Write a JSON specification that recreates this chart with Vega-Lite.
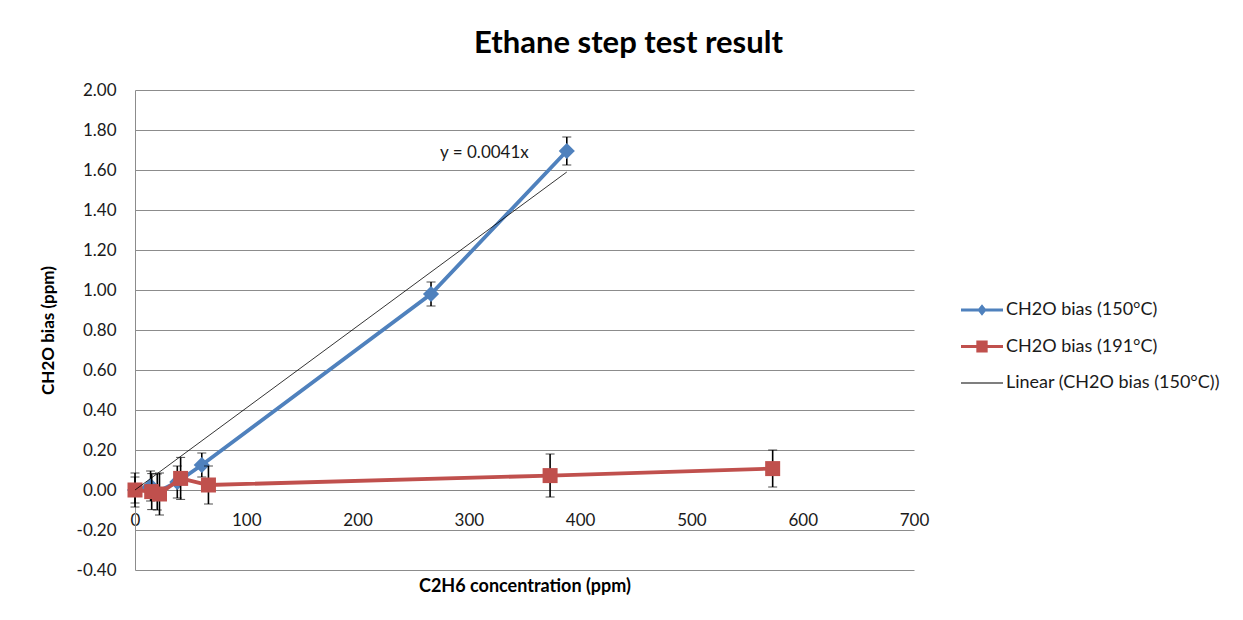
{
  "$schema": "https://vega.github.io/schema/vega-lite/v6.json",
  "width": 779,
  "height": 480,
  "autosize": {"type": "none"},
  "padding": {"left": 135, "top": 90, "right": 329, "bottom": 50},
  "background": "white",
  "title": {
    "text": "Ethane step test result",
    "font": "Lato",
    "fontSize": 31,
    "fontWeight": "bold",
    "color": "#000000",
    "anchor": "middle",
    "frame": "group",
    "dx": 104,
    "dy": 38,
    "offset": 35,
    "baseline": "alphabetic"
  },
  "config": {
    "view": {"stroke": null},
    "font": "Lato",
    "axis": {"labelFont": "Lato", "titleFont": "Lato", "labelColor": "#1a1a1a", "titleColor": "#000000"}
  },
  "datasets": {
    "pts": [
      {"series": "CH2O bias (150°C)", "x": 0, "y": 0.0, "lo": -0.065, "hi": 0.065},
      {"series": "CH2O bias (150°C)", "x": 14, "y": 0.02, "lo": -0.055, "hi": 0.095},
      {"series": "CH2O bias (150°C)", "x": 20, "y": -0.01, "lo": -0.1, "hi": 0.08},
      {"series": "CH2O bias (150°C)", "x": 38, "y": 0.04, "lo": -0.04, "hi": 0.12},
      {"series": "CH2O bias (150°C)", "x": 60, "y": 0.125, "lo": 0.065, "hi": 0.185},
      {"series": "CH2O bias (150°C)", "x": 266, "y": 0.98, "lo": 0.92, "hi": 1.04},
      {"series": "CH2O bias (150°C)", "x": 388, "y": 1.695, "lo": 1.625, "hi": 1.765},
      {"series": "CH2O bias (191°C)", "x": 0, "y": 0.0, "lo": -0.085, "hi": 0.085},
      {"series": "CH2O bias (191°C)", "x": 15, "y": -0.008, "lo": -0.098, "hi": 0.082},
      {"series": "CH2O bias (191°C)", "x": 22, "y": -0.02, "lo": -0.125, "hi": 0.085},
      {"series": "CH2O bias (191°C)", "x": 41, "y": 0.058, "lo": -0.047, "hi": 0.163},
      {"series": "CH2O bias (191°C)", "x": 66, "y": 0.025, "lo": -0.07, "hi": 0.12},
      {"series": "CH2O bias (191°C)", "x": 373, "y": 0.072, "lo": -0.035, "hi": 0.18},
      {"series": "CH2O bias (191°C)", "x": 573, "y": 0.107, "lo": 0.015, "hi": 0.2}
    ],
    "trend": [
      {"series": "Linear (CH2O bias (150°C))", "x": 0, "y": 0.0},
      {"series": "Linear (CH2O bias (150°C))", "x": 388, "y": 1.59}
    ],
    "label": [
      {"x": 314, "y": 1.685, "text": "y = 0.0041x"}
    ]
  },
  "encoding": {
    "x": {
      "field": "x",
      "type": "quantitative",
      "scale": {"domain": [0, 700], "nice": false, "zero": false},
      "axis": {
        "values": [0, 100, 200, 300, 400, 500, 600, 700],
        "grid": false,
        "ticks": false,
        "domain": true,
        "domainColor": "#868686",
        "offset": -80,
        "labelPadding": 22,
        "labelFontSize": 17,
        "labelFlush": false,
        "labelOverlap": false,
        "title": "C2H6 concentration (ppm)",
        "titleFontSize": 18,
        "titleFontWeight": "bold",
        "titleY": 96,
        "titleBaseline": "middle"
      }
    },
    "y": {
      "field": "y",
      "type": "quantitative",
      "scale": {"domain": [-0.4, 2.0], "nice": false, "zero": false},
      "axis": {
        "values": [-0.4, -0.2, 0, 0.2, 0.4, 0.6, 0.8, 1.0, 1.2, 1.4, 1.6, 1.8, 2.0],
        "labelExpr": "replace(format(datum.value, '.2f'), '\u2212', '-')",
        "grid": true,
        "gridColor": "#8c8c8c",
        "domainColor": "#8c8c8c",
        "ticks": false,
        "labelPadding": 19,
        "labelFontSize": 17,
        "labelFlush": false,
        "labelOverlap": false,
        "title": "CH2O bias (ppm)",
        "titleFontSize": 17,
        "titleFontWeight": "bold",
        "titleX": -87,
        "titleY": 240,
        "titleBaseline": "middle"
      }
    }
  },
  "layer": [
    {
      "data": {"name": "pts"},
      "transform": [{"filter": "datum.series === 'CH2O bias (150°C)'"}],
      "mark": {"type": "errorbar", "ticks": {"size": 9, "color": "#000000", "strokeWidth": 1.6}, "rule": {"color": "#000000", "strokeWidth": 1.6}},
      "encoding": {
        "y": {"field": "lo", "type": "quantitative", "title": null},
        "y2": {"field": "hi"}
      }
    },
    {
      "data": {"name": "pts"},
      "transform": [{"filter": "datum.series === 'CH2O bias (150°C)'"}],
      "mark": {"type": "line", "color": "#4F81BD", "strokeWidth": 3.8}
    },
    {
      "data": {"name": "pts"},
      "transform": [{"filter": "datum.series === 'CH2O bias (150°C)'"}],
      "mark": {"type": "point", "shape": "diamond", "filled": true, "color": "#4F81BD", "size": 260, "opacity": 1}
    },
    {
      "data": {"name": "pts"},
      "transform": [{"filter": "datum.series === 'CH2O bias (191°C)'"}],
      "mark": {"type": "errorbar", "ticks": {"size": 9, "color": "#000000", "strokeWidth": 1.6}, "rule": {"color": "#000000", "strokeWidth": 1.6}},
      "encoding": {
        "y": {"field": "lo", "type": "quantitative", "title": null},
        "y2": {"field": "hi"}
      }
    },
    {
      "data": {"name": "pts"},
      "transform": [{"filter": "datum.series === 'CH2O bias (191°C)'"}],
      "mark": {"type": "line", "color": "#C0504D", "strokeWidth": 3.8}
    },
    {
      "data": {"name": "pts"},
      "transform": [{"filter": "datum.series === 'CH2O bias (191°C)'"}],
      "mark": {"type": "point", "shape": "square", "filled": true, "color": "#C0504D", "size": 225, "opacity": 1}
    },
    {
      "data": {"name": "trend"},
      "mark": {"type": "line", "color": "#000000", "strokeWidth": 0.8}
    },
    {
      "data": {"name": "label"},
      "mark": {"type": "text", "font": "Lato", "fontSize": 17, "color": "#1a1a1a", "align": "center", "baseline": "middle"},
      "encoding": {"text": {"field": "text"}}
    },
    {
      "data": {"name": "pts"},
      "transform": [{"filter": "datum.x < -1000"}],
      "mark": {"type": "point", "filled": true, "opacity": 1},
      "encoding": {
        "color": {
          "field": "series",
          "type": "nominal",
          "scale": {
            "domain": ["CH2O bias (150°C)", "CH2O bias (191°C)", "Linear (CH2O bias (150°C))"],
            "range": ["#4F81BD", "#C0504D", "#000000"]
          },
          "legend": {
            "title": null,
            "orient": "none",
            "legendX": 826,
            "legendY": 210,
            "padding": 0,
            "symbolSize": 1764,
            "symbolStrokeWidth": 0,
            "symbolOpacity": 1,
            "labelFont": "Lato",
            "labelFontSize": 18,
            "labelColor": "#1a1a1a",
            "labelOffset": 3,
            "labelLimit": 400,
            "clipHeight": 20,
            "rowPadding": 16.5
          }
        },
        "shape": {
          "field": "series",
          "type": "nominal",
          "scale": {
            "domain": ["CH2O bias (150°C)", "CH2O bias (191°C)", "Linear (CH2O bias (150°C))"],
            "range": [
              "M-1,-0.075L1,-0.075L1,0.075L-1,0.075Z M0,-0.27L0.22,0L0,0.27L-0.22,0Z",
              "M-1,-0.075L1,-0.075L1,0.075L-1,0.075Z M-0.27,-0.28L0.27,-0.28L0.27,0.28L-0.27,0.28Z",
              "M-1,-0.025L1,-0.025L1,0.025L-1,0.025Z"
            ]
          }
        }
      }
    }
  ]
}
